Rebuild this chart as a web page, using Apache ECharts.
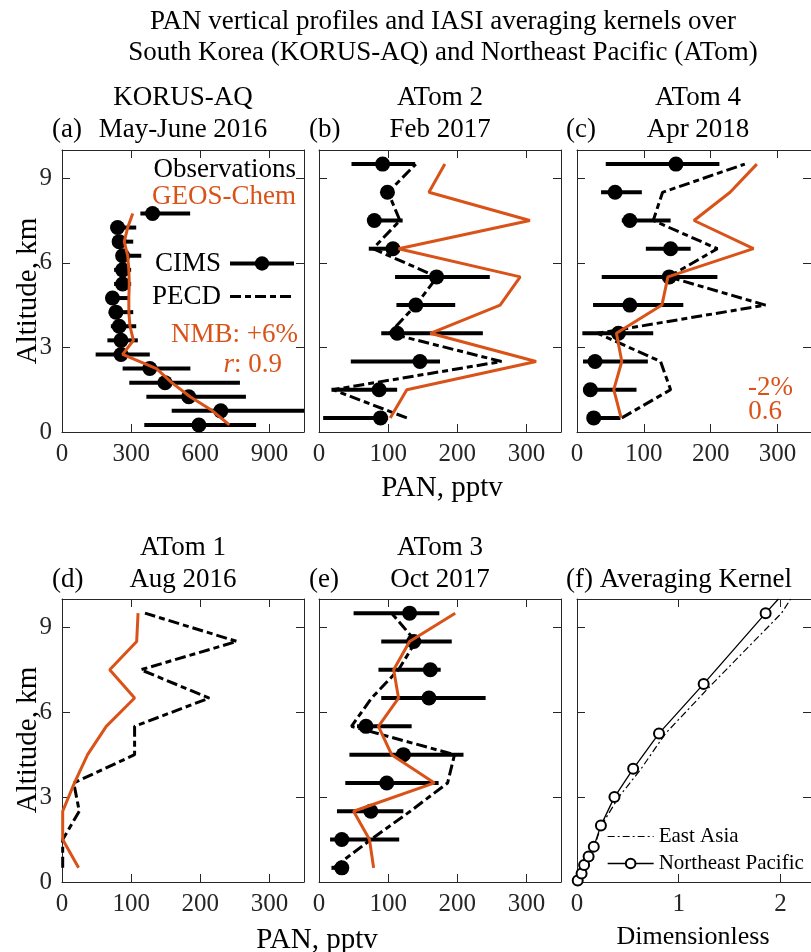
<!DOCTYPE html>
<html><head><meta charset="utf-8">
<script src="https://cdn.jsdelivr.net/npm/echarts@6/dist/echarts.min.js"></script>
<style>html,body{margin:0;padding:0;background:#fff}#c{width:811px;height:952px}</style>
</head><body><div id="c"></div>
<script>
// ---------- DATA ----------
// (a) KORUS-AQ
const altA = [0.25,0.75,1.25,1.75,2.25,2.75,3.25,3.75,4.25,4.75,5.25,5.75,6.25,6.75,7.25,7.75];
const cimsA   = [594,689,550,447,381,256,256,248,234,219,263,263,263,248,241,393];
const cimsLoA = [357,476,366,292,263,146,197,212,203,190,226,226,234,220,212,340];
const cimsHiA = [842,1063,798,772,557,381,329,322,309,287,300,300,344,309,322,556];
const gcA     = [726,653,556,476,410,263,310,295,290,290,292,290,285,270,285,307];
// ATom altitude bins
const altT = [0.5,1.5,2.5,3.5,4.5,5.5,6.5,7.5,8.5,9.5];
// (b) ATom 2
const cimsB   = [89,87,146,113,140,170,107,80,99,92];
const cimsLoB = [6,18,46,90,112,110,72,71,93,47];
const cimsHiB = [100,113,175,237,197,247,117,121,105,139];
const pecdB   = [127,20,264,102,140,171,78,117,100,140];
const gcB     = [103,127,314,161,262,291,115,305,159,182];
// (c) ATom 4
const cimsC   = [25,20,27,62,79,138,140,79,57,148];
const cimsLoC = [16,9,9,8,24,37,103,67,36,43];
const cimsHiC = [65,89,106,114,159,210,170,140,97,213];
const pecdC   = [67,140,125,31,282,137,210,114,128,251];
const gcC     = [66,55,67,59,127,136,264,175,229,269];
// (d) ATom 1
const pecdD   = [1,1,25,17,105,105,213,114,253,120];
const gcD     = [24,1,1,18,37,64,105,69,108,110];
// (e) ATom 3
const cimsE   = [33,33,75,98,122,68,159,161,137,131];
const cimsLoE = [18,16,26,38,44,55,90,86,90,50];
const cimsHiE = [40,116,122,173,209,134,241,176,192,174];
const pecdE   = [21,75,132,186,196,47,76,115,140,105];
const gcE     = [79,73,50,167,105,86,115,108,131,197];
// (f) Averaging kernels
const altAK = [0.05,0.3,0.6,0.9,1.25,2,3,4,5.25,7,9.5,10];
const akNEP = [0.007,0.045,0.07,0.114,0.165,0.235,0.368,0.552,0.806,1.245,1.854,1.98];
const akEA  = [0.007,0.045,0.075,0.115,0.17,0.24,0.41,0.63,0.87,1.33,2.01,2.1];
// axis settings
const xMaxes = [1050,350,350,350,350,2.3];
const xSteps = [300,100,100,100,100,1];
const yTicksStep = 3;

// ---------- STYLE ----------
const FONT = '"Liberation Serif","Times New Roman",serif';
const ORANGE = '#D95319';
const AX = '#262626';
const TICK_FS = 25, TTL_FS = 27, LAB_FS = 29;

const grids = [
  {left:62, top:150, width:242, height:282},
  {left:319, top:150, width:242, height:282},
  {left:577, top:150, width:242, height:282},
  {left:62, top:599, width:242, height:283},
  {left:319, top:599, width:242, height:283},
  {left:577, top:599, width:242, height:283}
];

const xAxis = [], yAxis = [];
for (let i = 0; i < 6; i++) {
  xAxis.push({type:'value', gridIndex:i, min:0, max:xMaxes[i], interval:xSteps[i], position:'bottom',
    axisLine:{show:true, onZero:false, lineStyle:{color:AX, width:1}},
    axisTick:{show:true, inside:true, length:8, lineStyle:{color:AX}},
    axisLabel:{show:true, showMaxLabel:false, fontFamily:FONT, fontSize:TICK_FS, color:AX, margin:10},
    splitLine:{show:false}});
}
for (let i = 0; i < 6; i++) {
  xAxis.push({type:'value', gridIndex:i, min:0, max:xMaxes[i], interval:xSteps[i], position:'top',
    axisLine:{show:true, onZero:false, lineStyle:{color:AX, width:1}},
    axisTick:{show:true, inside:true, length:8, lineStyle:{color:AX}},
    axisLabel:{show:false}, splitLine:{show:false}});
}
for (let i = 0; i < 6; i++) {
  yAxis.push({type:'value', gridIndex:i, min:0, max:10, interval:yTicksStep, position:'left',
    axisLine:{show:true, onZero:false, lineStyle:{color:AX, width:1}},
    axisTick:{show:true, inside:true, length:8, lineStyle:{color:AX}},
    axisLabel:{show:(i===0||i===3), showMaxLabel:false, fontFamily:FONT, fontSize:TICK_FS, color:AX, margin:10},
    splitLine:{show:false}});
}
for (let i = 0; i < 6; i++) {
  yAxis.push({type:'value', gridIndex:i, min:0, max:10, interval:yTicksStep, position:'right',
    axisLine:{show:true, onZero:false, lineStyle:{color:AX, width:1}},
    axisTick:{show:true, inside:true, length:8, lineStyle:{color:AX}},
    axisLabel:{show:false}, splitLine:{show:false}});
}

function pairs(vals, alts){ return vals.map((v,i)=>[v, alts[i]]); }
function errBars(idx, alts, lo, hi){
  return {type:'custom', xAxisIndex:idx, yAxisIndex:idx, silent:true, z:2,
    data: alts.map((a,i)=>[lo[i], hi[i], a]),
    encode:{x:[0,1], y:2},
    renderItem:function(params, api){
      const p1 = api.coord([api.value(0), api.value(2)]);
      const p2 = api.coord([api.value(1), api.value(2)]);
      const cs = params.coordSys;
      const x1 = Math.max(cs.x, p1[0]);
      const x2 = Math.min(cs.x + cs.width, p2[0]);
      return {type:'line', shape:{x1:x1, y1:p1[1], x2:x2, y2:p2[1]},
        style:{stroke:'#000', lineWidth:4}};
    }};
}
function dots(idx, alts, vals){
  return {type:'scatter', name:'CIMS obs', xAxisIndex:idx, yAxisIndex:idx, z:3,
    symbol:'circle', symbolSize:15, itemStyle:{color:'#000', opacity:1}, silent:true,
    data:pairs(vals, alts)};
}
function pecd(idx, alts, vals){
  return {type:'line', name:'PECD', xAxisIndex:idx, yAxisIndex:idx, z:4,
    symbol:'none', silent:true, lineStyle:{color:'#000', width:3, type:[11,4,6,4]},
    itemStyle:{color:'#000'}, data:pairs(vals, alts)};
}
function gc(idx, alts, vals){
  return {type:'line', name:'GEOS-Chem', xAxisIndex:idx, yAxisIndex:idx, z:5,
    symbol:'none', silent:true, lineStyle:{color:ORANGE, width:3},
    itemStyle:{color:ORANGE}, data:pairs(vals, alts)};
}

const series = [
  {type:'line', name:'CIMS', xAxisIndex:0, yAxisIndex:0, data:[], symbol:'circle', symbolSize:15,
   lineStyle:{color:'#000', width:4}, itemStyle:{color:'#000'}},
  errBars(0, altA, cimsLoA, cimsHiA), dots(0, altA, cimsA), gc(0, altA, gcA),
  errBars(1, altT, cimsLoB, cimsHiB), dots(1, altT, cimsB), pecd(1, altT, pecdB), gc(1, altT, gcB),
  errBars(2, altT, cimsLoC, cimsHiC), dots(2, altT, cimsC), pecd(2, altT, pecdC), gc(2, altT, gcC),
  pecd(3, altT, pecdD), gc(3, altT, gcD),
  errBars(4, altT, cimsLoE, cimsHiE), dots(4, altT, cimsE), pecd(4, altT, pecdE), gc(4, altT, gcE),
  {type:'line', name:'East Asia', xAxisIndex:5, yAxisIndex:5, symbol:'none', silent:true,
   lineStyle:{color:'#000', width:1.2, type:[7,3,2,3]}, itemStyle:{color:'#000'},
   data:pairs(akEA, altAK)},
  {type:'line', name:'Northeast Pacific', xAxisIndex:5, yAxisIndex:5, symbol:'emptyCircle', symbolSize:10,
   silent:true, lineStyle:{color:'#000', width:1.3}, itemStyle:{color:'#000', borderWidth:1.5},
   data: akNEP.map((v,i)=> i === akNEP.length-1 ? {value:[v, altAK[i]], symbol:'none'} : [v, altAK[i]])}
];

function txt(x, y, text, size, opts){
  opts = opts || {};
  return {type:'text', x:x, y:y, rotation:opts.rot||0, z:100, silent:true,
    style:{text:text, fill:opts.color||'#000', font:size + 'px ' + FONT,
      align:opts.align||'center', verticalAlign:'middle'}};
}

const graphics = [
  txt(443, 22, 'PAN vertical profiles and IASI averaging kernels over', TTL_FS),
  txt(443, 53, 'South Korea (KORUS-AQ) and Northeast Pacific (ATom)', TTL_FS),
  txt(183, 98, 'KORUS-AQ', TTL_FS), txt(183, 130, 'May-June 2016', TTL_FS), txt(52, 130, '(a)', TTL_FS, {align:'left'}),
  txt(440, 98, 'ATom 2', TTL_FS), txt(440, 130, 'Feb 2017', TTL_FS), txt(309, 130, '(b)', TTL_FS, {align:'left'}),
  txt(698, 98, 'ATom 4', TTL_FS), txt(698, 130, 'Apr 2018', TTL_FS), txt(566, 130, '(c)', TTL_FS, {align:'left'}),
  txt(183, 548, 'ATom 1', TTL_FS), txt(183, 580, 'Aug 2016', TTL_FS), txt(52, 580, '(d)', TTL_FS, {align:'left'}),
  txt(440, 548, 'ATom 3', TTL_FS), txt(440, 580, 'Oct 2017', TTL_FS), txt(309, 580, '(e)', TTL_FS, {align:'left'}),
  txt(566, 580, '(f) Averaging Kernel', TTL_FS, {align:'left'}),
  txt(28, 291, 'Altitude, km', LAB_FS, {rot:Math.PI/2}),
  txt(28, 740, 'Altitude, km', LAB_FS, {rot:Math.PI/2}),
  txt(442, 488, 'PAN, pptv', LAB_FS),
  txt(317, 940, 'PAN, pptv', LAB_FS),
  txt(693, 937, 'Dimensionless', 26),
  txt(296, 170, 'Observations', TTL_FS, {align:'right'}),
  txt(296, 197, 'GEOS-Chem', TTL_FS, {align:'right', color:ORANGE}),
  txt(298, 335, 'NMB: +6%', TTL_FS, {align:'right', color:ORANGE}),
  {type:'text', x:282, y:365, z:100, silent:true,
   style:{text:'{i|r}: 0.9', fill:ORANGE, font:TTL_FS+'px '+FONT, align:'right', verticalAlign:'middle',
     rich:{i:{fontStyle:'italic', fontFamily:FONT, fontSize:TTL_FS, fill:ORANGE}}}},
  txt(793, 388, '-2%', TTL_FS, {align:'right', color:ORANGE}),
  txt(782, 412, '0.6', TTL_FS, {align:'right', color:ORANGE})
];

const option = {
  animation:false,
  backgroundColor:'#fff',
  grid:grids,
  xAxis:xAxis,
  yAxis:yAxis,
  legend:[
    {left:152, top:250, orient:'vertical', align:'right', padding:0, itemGap:6,
     itemWidth:64, itemHeight:18, selectedMode:false,
     textStyle:{fontFamily:FONT, fontSize:TTL_FS, color:'#000', padding:[0,4,0,0]},
     data:[{name:'CIMS', lineStyle:{width:4}},
           {name:'PECD', lineStyle:{width:3}, itemStyle:{opacity:0}}]},
    {left:607, top:826, orient:'vertical', align:'left', padding:0, itemGap:6,
     itemWidth:46, itemHeight:12, selectedMode:false,
     textStyle:{fontFamily:FONT, fontSize:21, color:'#000'},
     data:[{name:'East Asia', lineStyle:{width:1.2}, itemStyle:{opacity:0}},
           {name:'Northeast Pacific', lineStyle:{width:1.3}}]}
  ],
  graphic:graphics,
  series:series
};

const chart = echarts.init(document.getElementById('c'), null, {renderer:'canvas'});
chart.setOption(option);
</script>
</body></html>
